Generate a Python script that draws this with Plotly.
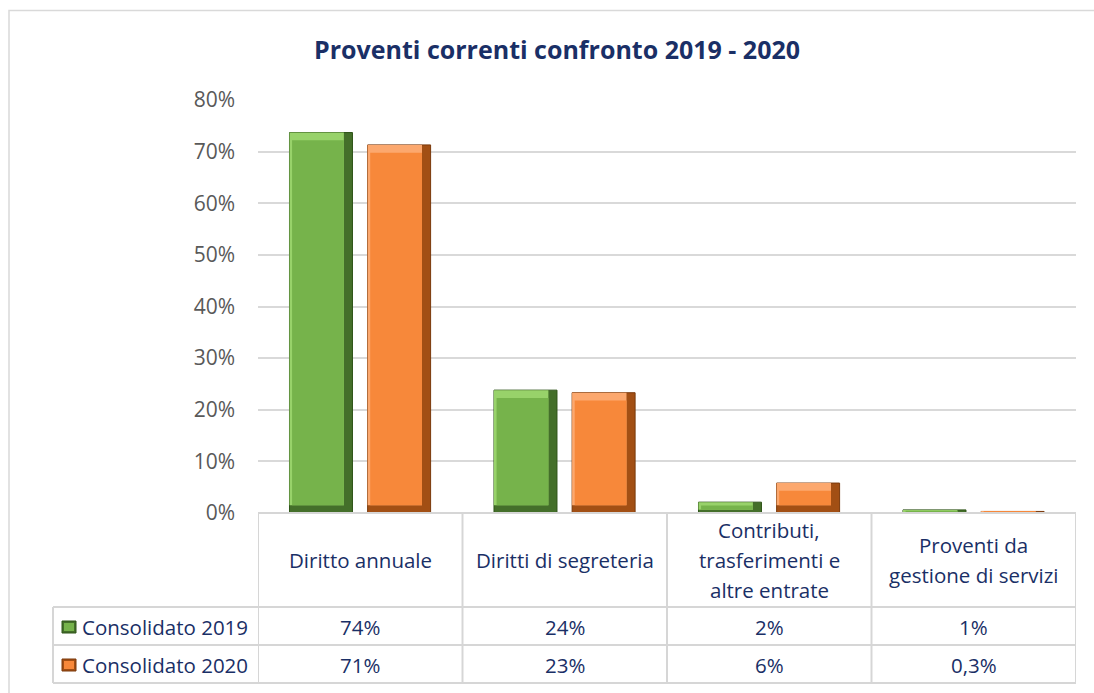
import plotly.graph_objects as go

# --- data -------------------------------------------------------------
categories = ["Diritto annuale", "Diritti di segreteria",
              "Contributi,<br>trasferimenti e<br>altre entrate",
              "Proventi da<br>gestione di servizi"]
series_names = ["Consolidato 2019", "Consolidato 2020"]
values_2019 = [73.7, 23.8, 2.1, 0.6]
values_2020 = [71.3, 23.3, 5.8, 0.3]
labels_2019 = ["74%", "24%", "2%", "1%"]
labels_2020 = ["71%", "23%", "6%", "0,3%"]
y_ticks = [0, 10, 20, 30, 40, 50, 60, 70, 80]
y_tick_text = [f"{v}%" for v in y_ticks]

# --- style --------------------------------------------------------------
W, H = 1094, 693
ML, MR, MT, MB = 258, 18, 100, 180
PW, PH = W - ML - MR, H - MT - MB
FONT = "Open Sans"
NAVY = "#1A2F66"
GRID = "#D9D9D9"
TABLE_LINE = "#D6D6D6"
TXT = 20.5

palettes = [
    dict(dark="#446F2A", light="#98D26A", face="#76B34B", edge="#2E5418"),
    dict(dark="#A24F14", light="#FCA86E", face="#F7883A", edge="#7A390B"),
]


def px_x(p):
    return (p - ML) / PW


def px_y(p):
    return (H - MB - p) / PH


x_pos = list(range(len(categories)))
bar_w = 0.308
offsets = [-0.192 - bar_w / 2, 0.190 - bar_w / 2]
bevel_x = 0.042
bevel_y = 1.5

fig = go.Figure()

for vals, off, pal, name in zip([values_2019, values_2020], offsets, palettes, series_names):
    # dark body: bottom and right bevel
    fig.add_trace(go.Bar(
        x=x_pos, y=vals, base=0, offset=off, width=bar_w, name=name,
        marker=dict(color=pal["dark"], line=dict(color=pal["edge"], width=1)),
        hoverinfo="skip", showlegend=False))
    # light top / left bevel
    insets = [min(bevel_y, v * 0.3) for v in vals]
    fig.add_trace(go.Bar(
        x=x_pos, y=[v - b for v, b in zip(vals, insets)], base=insets,
        offset=off, width=bar_w - bevel_x,
        marker=dict(color=pal["light"], line=dict(width=0)),
        hoverinfo="skip", showlegend=False))
    # flat face
    face_h = [max(v - 2 * b, 0) for v, b in zip(vals, insets)]
    fig.add_trace(go.Bar(
        x=x_pos, y=face_h, base=insets,
        offset=off + bevel_x * 0.3, width=bar_w - bevel_x * 1.3,
        marker=dict(color=pal["face"], line=dict(width=0)),
        hoverinfo="skip", showlegend=False))

shapes = []
annotations = []

# outer chart frame
shapes.append(dict(type="rect", xref="paper", yref="paper",
                   x0=px_x(9), x1=px_x(1110), y0=px_y(710), y1=px_y(10.5),
                   line=dict(color="#D9D9D9", width=1.5), fillcolor="rgba(0,0,0,0)", layer="below"))

# data table grid
y_top, y_r1, y_r2, y_bot = px_y(513), px_y(607), px_y(645), px_y(683)
x_leg = px_x(53)
line = dict(color=TABLE_LINE, width=2)
shapes.append(dict(type="line", xref="paper", yref="paper", x0=0, x1=1, y0=y_top, y1=y_top, line=line))
for yy in (y_r1, y_r2, y_bot):
    shapes.append(dict(type="line", xref="paper", yref="paper", x0=x_leg, x1=1, y0=yy, y1=yy, line=line))
for i in range(len(categories) + 1):
    shapes.append(dict(type="line", xref="x", yref="paper", x0=i - 0.5, x1=i - 0.5,
                       y0=y_bot, y1=y_top, line=line))
shapes.append(dict(type="line", xref="paper", yref="paper", x0=x_leg, x1=x_leg,
                   y0=y_bot, y1=y_r1, line=line))

# category headers, one annotation per line
for i, cat in enumerate(categories):
    lines = cat.split("<br>")
    n = len(lines)
    for j, ln in enumerate(lines):
        annotations.append(dict(
            x=i, xref="x", y=px_y(560), yref="paper", text=ln, showarrow=False,
            yshift=(n - 1) * 15 - j * 30, xanchor="center", yanchor="middle",
            font=dict(family=FONT, size=TXT, color=NAVY)))

# value rows
for row_y, labels, name in zip([px_y(627), px_y(665)], [labels_2019, labels_2020], series_names):
    annotations.append(dict(x=px_x(80), xref="paper", y=row_y, yref="paper", text=name,
                            showarrow=False, xanchor="left", yanchor="middle",
                            font=dict(family=FONT, size=TXT, color=NAVY)))
    for i, lab in enumerate(labels):
        annotations.append(dict(x=i, xref="x", y=row_y, yref="paper", text=lab,
                                showarrow=False, xanchor="center", yanchor="middle",
                                font=dict(family=FONT, size=TXT, color=NAVY)))

# legend keys inside the table
for key_y, pal in zip([627, 665], palettes):
    shapes.append(dict(type="rect", xref="paper", yref="paper",
                       x0=px_x(62), x1=px_x(76), y0=px_y(key_y + 6), y1=px_y(key_y - 6),
                       fillcolor=pal["dark"], line=dict(color=pal["edge"], width=1)))
    shapes.append(dict(type="rect", xref="paper", yref="paper",
                       x0=px_x(64), x1=px_x(74), y0=px_y(key_y + 4), y1=px_y(key_y - 4),
                       fillcolor=pal["face"], line=dict(width=0)))

fig.update_layout(
    width=W, height=H,
    margin=dict(l=ML, r=MR, t=MT, b=MB),
    paper_bgcolor="white", plot_bgcolor="white",
    barmode="overlay",
    showlegend=False,
    title=dict(text="<b>Proventi correnti confronto 2019 - 2020</b>",
               x=557 / W, xanchor="center",
               y=1 - 50 / H, yanchor="middle",
               font=dict(family=FONT, size=25, color=NAVY)),
    xaxis=dict(range=[-0.5, len(categories) - 0.5], showticklabels=False,
               showgrid=False, zeroline=False, showline=False, fixedrange=True),
    yaxis=dict(range=[0, 80], tickmode="array", tickvals=y_ticks, ticktext=y_tick_text,
               showgrid=True, gridcolor=GRID, gridwidth=1.5, zeroline=False,
               showline=False, ticks="", ticklabelstandoff=22,
               tickfont=dict(family=FONT, size=21, color="#595959")),
    shapes=shapes,
    annotations=annotations,
)

fig.write_html("out.html")
